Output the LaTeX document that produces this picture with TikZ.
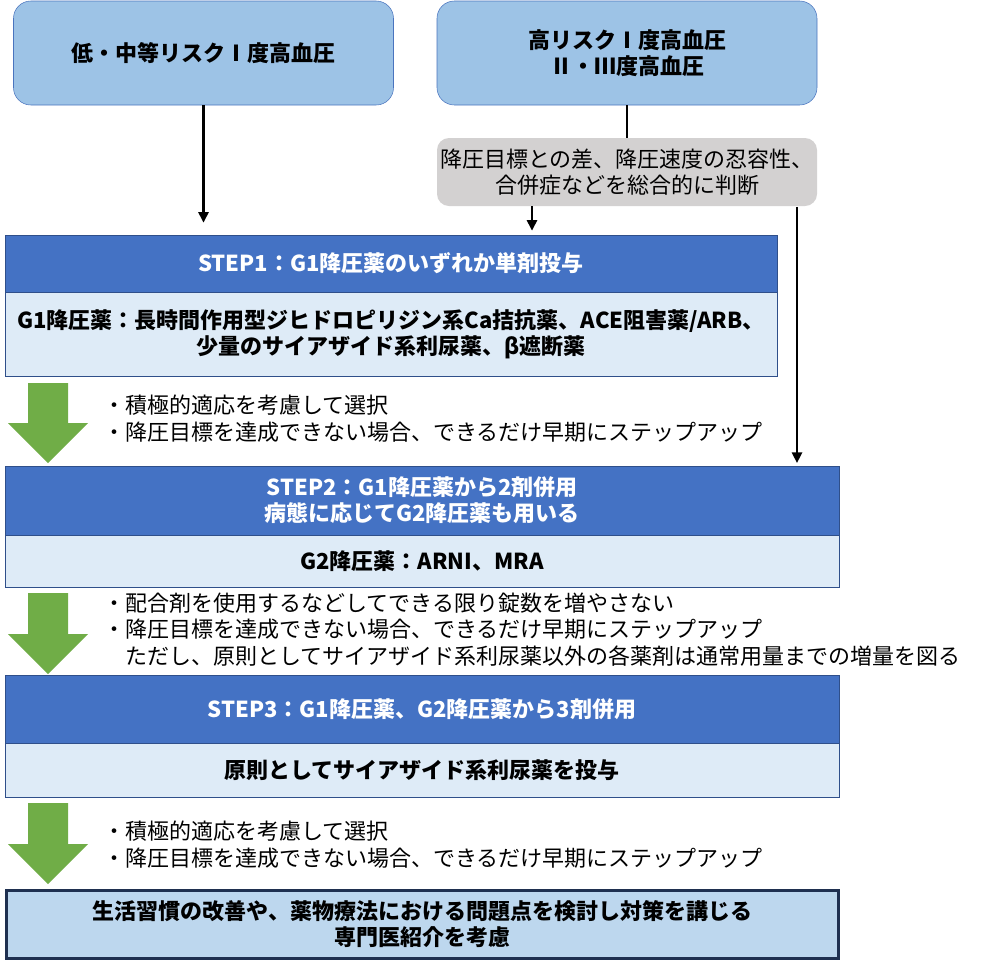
\documentclass[tikz,border=0pt]{standalone}
\usepackage{fontspec}
\setmainfont{Noto Sans CJK JP}
\usepackage{tikz}
\usetikzlibrary{arrows.meta, positioning}
\usepackage{xcolor}
\definecolor{riskfill}{HTML}{9DC3E6}
\definecolor{riskline}{HTML}{4A74BE}
\definecolor{judgefill}{HTML}{D3D1D1}
\definecolor{headfill}{HTML}{4472C4}
\definecolor{headline}{HTML}{2F4F8A}
\definecolor{bodyfill}{HTML}{DEEBF7}
\definecolor{arrowgreen}{HTML}{70AD47}
\definecolor{finalfill}{HTML}{BDD7EE}
\definecolor{finalline}{HTML}{1F3050}

\begin{document}
\begin{tikzpicture}[x=0.75pt, y=-0.75pt, >={Triangle[length=8pt,width=7.5pt]},
  every node/.style={font=\fontsize{16.5}{19.5}\selectfont},
  riskbox/.style={draw=riskline, fill=riskfill, rounded corners=13pt, inner sep=0pt,
    minimum width=285pt, minimum height=78pt, align=center,
    font=\fontsize{16.5}{19.5}\selectfont\bfseries},
  judgebox/.style={fill=judgefill, rounded corners=9pt, inner sep=0pt,
    minimum width=285pt, minimum height=51pt, align=center},
  stephead/.style={draw=headline, fill=headfill, text=white, inner sep=0pt, align=center,
    font=\fontsize{16.5}{19.5}\selectfont\bfseries},
  stepbody/.style={draw=headline, fill=bodyfill, inner sep=0pt, align=center,
    font=\fontsize{16.5}{19.5}\selectfont\bfseries},
  note/.style={anchor=west, inner sep=0pt, align=left,
    font=\fontsize{16.5}{20}\selectfont},
  greenarrow/.style={fill=arrowgreen},
  link/.style={line width=2pt}]
\useasboundingbox (0,0) rectangle (986,965);

% risk groups and judgement
\node (RISK1) [riskbox] at (203.5,53) {低・中等リスクⅠ度高血圧};
\node (RISK2) [riskbox] at (627,53) {高リスクⅠ度高血圧\\Ⅱ・Ⅲ度高血圧};
\node (JUDGE) [judgebox] at (627,172) {降圧目標との差、降圧速度の忍容性、\\合併症などを総合的に判断};

% steps
\node (STEP1) [stephead, minimum width=579pt, minimum height=42.75pt] at (391,263.5)
  {STEP1：G1降圧薬のいずれか単剤投与};
\node (G1) [stepbody, minimum width=579pt, minimum height=63pt, below=0pt of STEP1]
  {G1降圧薬：長時間作用型ジヒドロピリジン系Ca拮抗薬、ACE阻害薬/ARB、\\少量のサイアザイド系利尿薬、β遮断薬};
\node (STEP2) [stephead, minimum width=625.5pt, minimum height=51.75pt] at (422,500.5)
  {STEP2：G1降圧薬から2剤併用\\病態に応じてG2降圧薬も用いる};
\node (G2) [stepbody, minimum width=625.5pt, minimum height=39pt, below=0pt of STEP2]
  {G2降圧薬：ARNI、MRA};
\node (STEP3) [stephead, minimum width=625.5pt, minimum height=51pt] at (422,709)
  {STEP3：G1降圧薬、G2降圧薬から3剤併用};
\node (DIUR) [stepbody, minimum width=625.5pt, minimum height=40.5pt, below=0pt of STEP3]
  {原則としてサイアザイド系利尿薬を投与};
\node (FINAL) [stepbody, draw=finalline, line width=2.25pt, fill=finalfill,
  minimum width=624pt, minimum height=51.5pt] at (422.5,924.5)
  {生活習慣の改善や、薬物療法における問題点を検討し対策を講じる\\専門医紹介を考慮};

% notes between steps
\node (NOTE1) [note] at (103,418.5)
  {・積極的適応を考慮して選択\\・降圧目標を達成できない場合、できるだけ早期にステップアップ};
\node (NOTE2) [note] at (103,629.5)
  {・配合剤を使用するなどしてできる限り錠数を増やさない\\・降圧目標を達成できない場合、できるだけ早期にステップアップ\\　ただし、原則としてサイアザイド系利尿薬以外の各薬剤は通常用量までの増量を図る};
\node (NOTE3) [note] at (103,844.5)
  {・積極的適応を考慮して選択\\・降圧目標を達成できない場合、できるだけ早期にステップアップ};

% green block arrows
\fill[greenarrow] (28,383) -- (68,383) -- (68,423) -- (88,423) -- (48,463) -- (8,423) -- (28,423) -- cycle;
\fill[greenarrow] (28,593) -- (68,593) -- (68,634) -- (88,634) -- (48,674) -- (8,634) -- (28,634) -- cycle;
\fill[greenarrow] (28,803) -- (68,803) -- (68,844) -- (88,844) -- (48,884) -- (8,844) -- (28,844) -- cycle;

\path[->, link, shorten >=9pt] (RISK1) edge (RISK1 |- STEP1.north);
\path[link] (RISK2) edge (JUDGE);
\path[->, link, shorten >=3pt] ([xshift=-71.25pt]JUDGE.south) edge ([xshift=-71.25pt]JUDGE.south |- STEP1.north);
\path[->, link, shorten >=2pt] ([xshift=127.5pt,yshift=-0.5pt]JUDGE.south) edge ([xshift=127.5pt]JUDGE.south |- STEP2.north);
\end{tikzpicture}
\end{document}
